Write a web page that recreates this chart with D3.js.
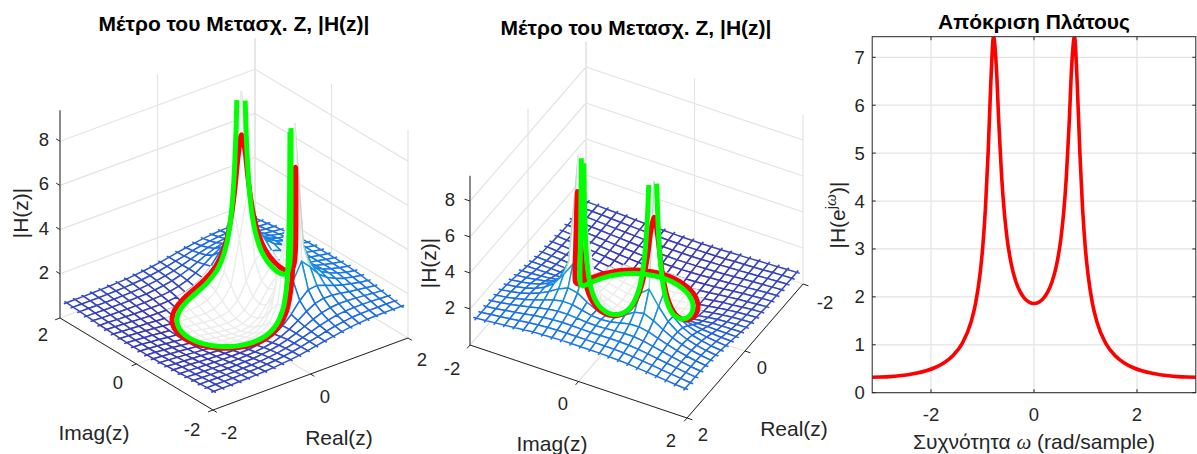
<!DOCTYPE html>
<html>
<head>
<meta charset="utf-8">
<script src="https://cdnjs.cloudflare.com/ajax/libs/d3/7.8.5/d3.min.js"></script>
<style>
html,body{margin:0;padding:0;background:#fff}
svg{display:block}
text{font-family:"Liberation Sans",Arial,sans-serif;fill:#262626}
</style>
</head>
<body>
<svg id="chart" width="1197" height="454" viewBox="0 0 1197 454"></svg>
<script>
// ----- chart values (typed in, with a two-pole fit
// r=0.9, angle=pi/4 as a reading aid, checked against peak and corner heights) -----
const titleLeft = "Μέτρο του Μετασχ. Z, |H(z)|";
const titleRight = "Απόκριση Πλάτους";
const xLabel2D = "Συχνότητα ";
const xLabel2DUnit = " (rad/sample)";
const ticks3D = [-2, 0, 2];
const ticksZ = [2, 4, 6, 8];
const ticksX2D = [-2, 0, 2];
const ticksY2D = [0, 1, 2, 3, 4, 5, 6, 7];
const zMax = 9.4;
const yMax2D = 7.43;

// magnitude on the unit circle (red curve), for omega >= 0; the curve mirrors at omega = 0
const omegaDeg = [0,5,10,15,20,25,30,33,36,39,42,45,48,51,54,57,60,65,70,80,90,100,110,120,130,140,150,160,170,180];
const redMag = [1.861,1.885,1.958,2.092,2.310,2.658,3.230,3.757,4.511,5.572,6.836,7.433,6.490,5.020,3.856,3.046,2.482,1.865,1.476,1.024,0.777,0.626,0.526,0.458,0.410,0.376,0.352,0.336,0.327,0.324];

// magnitude on the inner circle (green curve); its tops stop at about 9.1
const redRadius = 1;
const greenRadius = 0.92;
const greenInnerDeg = [0,5,10,15,20,25,30,33,36,38,39.5,40.6];
const greenInnerMag = [1.761,1.784,1.857,1.991,2.214,2.581,3.225,3.879,4.961,6.165,7.579,9.1];
const greenOuterDeg = [49,50,52,54,57,60,65,70,80,90,100,110,120,130,140,150,160,170,180];
const greenOuterMag = [9.1,7.512,5.455,4.237,3.141,2.475,1.808,1.411,0.967,0.730,0.586,0.492,0.428,0.383,0.351,0.328,0.314,0.305,0.303];

// mesh nodes
const meshRe = [-1.925,-1.75,-1.575,-1.4,-1.225,-1.05,-0.875,-0.7,-0.525,-0.35,-0.175,0,0.175,0.35,0.525,0.7,0.875,1.05,1.225,1.4,1.575,1.75,1.925];
const meshImUpper = [0,0.175,0.35,0.525,0.7,0.875,1.05,1.225,1.4,1.575,1.75,1.925];
const meshEnd = 1.98;
// heights: one row per meshImUpper entry, one column per meshRe entry; lower half mirrors
const meshHeights = [
[.53,.50,.47,.43,.39,.34,.29,.22,.16,.09,.03,0,.05,.25,.66,1.20,1.66,1.91,2.00,1.98,1.93,1.86,1.79],
[.53,.51,.47,.44,.39,.35,.29,.24,.17,.11,.06,.04,.10,.33,.79,1.38,1.81,2.01,2.04,2.00,1.94,1.86,1.79],
[.54,.51,.48,.45,.41,.37,.32,.27,.22,.17,.14,.15,.26,.59,1.31,2.12,2.35,2.28,2.16,2.05,1.95,1.86,1.79],
[.55,.53,.50,.47,.43,.40,.36,.32,.29,.26,.26,.32,.52,1.09,3.01,5.14,3.33,2.61,2.28,2.08,1.95,1.85,1.77],
[.57,.54,.52,.49,.47,.44,.41,.39,.37,.37,.41,.52,.79,1.53,4.46,9.40,3.74,2.72,2.30,2.08,1.93,1.83,1.75],
[.59,.57,.55,.52,.50,.48,.47,.46,.46,.49,.55,.69,.97,1.55,2.61,3.36,2.96,2.49,2.20,2.01,1.88,1.79,1.72],
[.60,.59,.57,.56,.54,.53,.53,.53,.55,.59,.67,.81,1.05,1.42,1.90,2.25,2.30,2.17,2.02,1.90,1.81,1.73,1.67],
[.63,.61,.60,.59,.58,.58,.58,.60,.62,.67,.75,.88,1.07,1.32,1.59,1.81,1.90,1.90,1.85,1.78,1.72,1.67,1.62],
[.65,.64,.63,.63,.62,.63,.64,.65,.69,.74,.82,.93,1.07,1.24,1.42,1.57,1.66,1.70,1.69,1.67,1.64,1.60,1.57],
[.67,.67,.66,.66,.66,.67,.68,.70,.74,.79,.86,.95,1.06,1.19,1.32,1.43,1.51,1.55,1.57,1.57,1.56,1.54,1.52],
[.69,.69,.69,.69,.70,.71,.72,.75,.78,.83,.89,.97,1.06,1.15,1.25,1.33,1.40,1.45,1.47,1.48,1.48,1.48,1.47],
[.71,.71,.71,.72,.73,.74,.76,.78,.82,.86,.91,.98,1.05,1.13,1.20,1.27,1.33,1.37,1.40,1.42,1.42,1.42,1.42]
];

// ----- drawing -----
const svg = d3.select("#chart");
const TXT = "#262626", GRID = "#e3e3e3", INNER = "#ececec";
const meshColor = d3.scaleLinear()
  .domain([0,.06,.14,.2,.3,.45,.6,.75,1])
  .range(["#3e26a8","#3a3fb8","#2068e0","#1a78e6","#1a9ad5","#20b0b0","#7dc85a","#d8bb34","#f9fb15"])
  .clamp(true);

const meshIm = meshImUpper.slice(1).reverse().map(v => -v).concat(meshImUpper);
const heightAt = (i, j) => {
  const row = j >= meshImUpper.length - 1 ? j - (meshImUpper.length - 1) : (meshImUpper.length - 1) - j;
  return meshHeights[row][i];
};

function panel3D(cfg) {
  const g = svg.append("g");
  const reX = d3.scaleLinear([-2,2],[0,cfg.reV[0]]), reY = d3.scaleLinear([-2,2],[0,cfg.reV[1]]);
  const imX = d3.scaleLinear([-2,2],[0,cfg.imV[0]]), imY = d3.scaleLinear([-2,2],[0,cfg.imV[1]]);
  const zY = d3.scaleLinear([0,zMax],[0,-cfg.zLen]);
  const P = (re,im,z=0) => [cfg.anchor[0]+reX(re)+imX(im), cfg.anchor[1]+reY(re)+imY(im)+zY(z)];
  const seg = (a,b,col,w) => g.append("line").attr("x1",a[0]).attr("y1",a[1]).attr("x2",b[0]).attr("y2",b[1])
    .attr("stroke",col).attr("stroke-width",w);

  // back walls and floor grid
  ticks3D.forEach(t => {
    seg(P(t,cfg.wallIm),P(t,cfg.wallIm,zMax),GRID,1.2);
    seg(P(cfg.wallRe,t),P(cfg.wallRe,t,zMax),GRID,1.2);
    seg(P(t,-2),P(t,2),GRID,1.2);
    seg(P(-2,t),P(2,t),GRID,1.2);
  });
  ticksZ.forEach(z => {
    seg(P(-2,cfg.wallIm,z),P(2,cfg.wallIm,z),GRID,1.2);
    seg(P(cfg.wallRe,-2,z),P(cfg.wallRe,2,z),GRID,1.2);
  });

  // axis lines and ticks
  seg(P(cfg.axisRe,-2),P(cfg.axisRe,2),TXT,1);
  seg(P(-2,cfg.axisIm),P(2,cfg.axisIm),TXT,1);
  seg(P(cfg.axisRe,-cfg.axisIm),P(cfg.axisRe,-cfg.axisIm,zMax),TXT,1);
  const reOut = Math.sign(cfg.axisRe)*0.1, imOut = Math.sign(cfg.axisIm)*0.1;
  ticks3D.forEach(t => {
    seg(P(cfg.axisRe,t),P(cfg.axisRe+reOut,t),TXT,1);
    seg(P(t,cfg.axisIm),P(t,cfg.axisIm+imOut),TXT,1);
  });
  ticksZ.forEach(z => seg(P(cfg.axisRe,-cfg.axisIm,z),P(cfg.axisRe,-cfg.axisIm-imOut,z),TXT,1));

  // stubs where the mesh lines run past the last crossing
  const stubs = [];
  const last = meshRe.length-1, lastJ = meshIm.length-1;
  meshIm.forEach((im,j) => {
    stubs.push([P(-meshEnd,im,heightAt(0,j)),P(meshRe[0],im,heightAt(0,j)),heightAt(0,j)]);
    stubs.push([P(meshEnd,im,heightAt(last,j)),P(meshRe[last],im,heightAt(last,j)),heightAt(last,j)]);
  });
  meshRe.forEach((re,i) => {
    stubs.push([P(re,-meshEnd,heightAt(i,0)),P(re,meshIm[0],heightAt(i,0)),heightAt(i,0)]);
    stubs.push([P(re,meshEnd,heightAt(i,lastJ)),P(re,meshIm[lastJ],heightAt(i,lastJ)),heightAt(i,lastJ)]);
  });
  g.append("g").selectAll("line").data(stubs).join("line")
    .attr("x1",d=>d[0][0]).attr("y1",d=>d[0][1]).attr("x2",d=>d[1][0]).attr("y2",d=>d[1][1])
    .attr("stroke",d=>meshColor(d[2]/zMax)).attr("stroke-width",1.5);

  // mesh quads, far ones first, white faces hide what lies behind
  const quads = [];
  for (let i=0;i<last;i++) for (let j=0;j<lastJ;j++) {
    const c = [[i,j],[i+1,j],[i+1,j+1],[i,j+1]];
    const h = c.map(([a,b]) => heightAt(a,b));
    const cr = (meshRe[i]+meshRe[i+1])/2, ci = (meshIm[j]+meshIm[j+1])/2;
    const base = meshColor(d3.mean(h)/zMax);
    const spike = d3.max(h) >= zMax;
    quads.push({
      pts: c.map(([a,b],k) => P(meshRe[a],meshIm[b],h[k])),
      depth: P(cr,ci)[1],
      col: Math.hypot(cr,ci) < 1 ? INNER : spike ? d3.interpolateRgb(base,"#eeeeee")(0.65) : base,
      w: Math.hypot(cr,ci) < 1 ? 1.3 : 1.5
    });
  }
  quads.sort((a,b) => a.depth-b.depth);
  g.append("g").selectAll("path").data(quads).join("path")
    .attr("d",d => "M"+d.pts.join("L")+"Z")
    .attr("fill","#fff").attr("stroke",d=>d.col).attr("stroke-width",d=>d.w).attr("stroke-linejoin","round");

  // red and green circles
  const polar = (r,deg,z) => { const a = deg*Math.PI/180; return P(r*Math.cos(a),r*Math.sin(a),z); };
  const line = d3.line().curve(d3.curveCatmullRom.alpha(0.5));
  const redPts = [
    ...omegaDeg.map((d,i)=>polar(redRadius,d,redMag[i])),
    ...omegaDeg.slice(0,-1).reverse().map(d=>polar(redRadius,-d,redMag[omegaDeg.indexOf(d)]))
  ];
  g.append("path").attr("d",line(redPts)).attr("fill","none")
    .attr("stroke","#ff0000").attr("stroke-width",5).attr("stroke-linejoin","round").attr("stroke-linecap","round");
  const inner = [
    ...greenInnerDeg.slice(1).reverse().map(d=>polar(greenRadius,-d,greenInnerMag[greenInnerDeg.indexOf(d)])),
    ...greenInnerDeg.map((d,i)=>polar(greenRadius,d,greenInnerMag[i]))
  ];
  const outer = [
    ...greenOuterDeg.map((d,i)=>polar(greenRadius,d,greenOuterMag[i])),
    ...greenOuterDeg.slice(0,-1).reverse().map(d=>polar(greenRadius,-d,greenOuterMag[greenOuterDeg.indexOf(d)]))
  ];
  [inner,outer].forEach(p => g.append("path").attr("d",line(p)).attr("fill","none")
    .attr("stroke","#00ff00").attr("stroke-width",5).attr("stroke-linejoin","round"));

  // text
  const label = (x,y,s,size=18.5,anchor="middle") => g.append("text").attr("x",x).attr("y",y)
    .attr("text-anchor",anchor).attr("font-size",size).attr("dy","0.35em").text(s);
  ticks3D.forEach((t,i) => {
    label(cfg.imLabels[i][0],cfg.imLabels[i][1],String(t));
    label(cfg.reLabels[i][0],cfg.reLabels[i][1],String(t));
  });
  ticksZ.forEach(z => { const p = P(cfg.axisRe,-cfg.axisIm,z); label(p[0]-cfg.zLabelGap,p[1]-1.5,String(z),18.5,"end"); });
  label(cfg.imTitle[0],cfg.imTitle[1],"Imag(z)",21);
  label(cfg.reTitle[0],cfg.reTitle[1],"Real(z)",21);
  g.append("text").attr("transform",`translate(${cfg.zTitle[0]},${cfg.zTitle[1]}) rotate(-90)`)
    .attr("text-anchor","middle").attr("dy","0.35em").attr("font-size",21).text("|H(z)|");
  g.append("text").attr("x",cfg.title[0]).attr("y",cfg.title[1]).attr("text-anchor","middle").attr("dy","0.35em")
    .attr("font-size",21).attr("font-weight","bold").style("fill","#000").text(titleLeft);
}

panel3D({
  anchor:[213,410], reV:[195,-72], imV:[-153,-92], zLen:207.7, zLabelGap:11,
  wallRe:2, wallIm:2, axisRe:-2, axisIm:-2,
  imLabels:[[192,430],[118,383],[43,335]], reLabels:[[229,433],[325,397],[422,360]],
  imTitle:[94,433], reTitle:[339,438], zTitle:[21,213], title:[234,24]
});
panel3D({
  anchor:[586,211], reV:[-116,134], imV:[217,73], zLen:169.2, zLabelGap:15,
  wallRe:-2, wallIm:-2, axisRe:2, axisIm:2,
  imLabels:[[452,369],[563,404],[671,441]], reLabels:[[825,303],[762,368],[703,435]],
  imTitle:[552,444], reTitle:[794,429], zTitle:[429,263], title:[636,28]
});

// ----- 2-D magnitude response -----
const box = {l:872.2, r:1195.8, t:36.7, b:392.7};
const xS = d3.scaleLinear([-Math.PI,Math.PI],[box.l,box.r]);
const yS = d3.scaleLinear([0,yMax2D],[box.b,box.t]);
const g2 = svg.append("g");
svg.append("defs").append("clipPath").attr("id","clip2d").append("rect")
  .attr("x",box.l).attr("y",box.t).attr("width",box.r-box.l).attr("height",box.b-box.t);
ticksX2D.forEach(t => g2.append("line").attr("x1",xS(t)).attr("x2",xS(t)).attr("y1",box.t).attr("y2",box.b).attr("stroke",GRID).attr("stroke-width",1.2));
ticksY2D.forEach(t => g2.append("line").attr("y1",yS(t)).attr("y2",yS(t)).attr("x1",box.l).attr("x2",box.r).attr("stroke",GRID).attr("stroke-width",1.2));
const resp = [
  ...omegaDeg.slice(1).reverse().map(d => [-d*Math.PI/180, redMag[omegaDeg.indexOf(d)]]),
  ...omegaDeg.map((d,i) => [d*Math.PI/180, redMag[i]])
];
g2.append("path").attr("clip-path","url(#clip2d)")
  .attr("d",d3.line().x(d=>xS(d[0])).y(d=>yS(d[1])).curve(d3.curveMonotoneX)(resp))
  .attr("fill","none").attr("stroke","#ff0000").attr("stroke-width",3.6);
g2.append("rect").attr("x",box.l).attr("y",box.t).attr("width",box.r-box.l).attr("height",box.b-box.t)
  .attr("fill","none").attr("stroke",TXT).attr("stroke-width",1);
ticksX2D.forEach(t => {
  [[box.b,box.b-3.5],[box.t,box.t+3.5]].forEach(([a,b]) =>
    g2.append("line").attr("x1",xS(t)).attr("x2",xS(t)).attr("y1",a).attr("y2",b).attr("stroke",TXT));
  g2.append("text").attr("x",xS(t)).attr("y",415).attr("text-anchor","middle").attr("dy","0.35em").attr("font-size",18.5).text(t);
});
ticksY2D.forEach(t => {
  [[box.l,box.l+3.5],[box.r,box.r-3.5]].forEach(([a,b]) =>
    g2.append("line").attr("x1",a).attr("x2",b).attr("y1",yS(t)).attr("y2",yS(t)).attr("stroke",TXT));
  g2.append("text").attr("x",box.l-7.5).attr("y",yS(t)).attr("text-anchor","end").attr("dy","0.35em").attr("font-size",18.5).text(t);
});
g2.append("text").attr("x",1034).attr("y",22).attr("text-anchor","middle").attr("dy","0.35em")
  .attr("font-size",21).attr("font-weight","bold").style("fill","#000").text(titleRight);
const xl = g2.append("text").attr("x",1034).attr("y",442).attr("text-anchor","middle").attr("dy","0.35em").attr("font-size",21);
xl.append("tspan").text(xLabel2D);
xl.append("tspan").style("font-family","'Liberation Serif',serif").style("font-style","italic").text("ω");
xl.append("tspan").text(xLabel2DUnit);
const yl = g2.append("text").attr("transform","translate(838,215) rotate(-90)").attr("text-anchor","middle").attr("font-size",21).attr("dy","0.35em");
yl.append("tspan").text("|H(e");
yl.append("tspan").attr("dy","-9").attr("font-size",15).text("j");
yl.append("tspan").attr("font-size",17).style("font-family","'Liberation Serif',serif").style("font-style","italic").text("ω");
yl.append("tspan").attr("dy","9").text(")|");
</script>
</body>
</html>
